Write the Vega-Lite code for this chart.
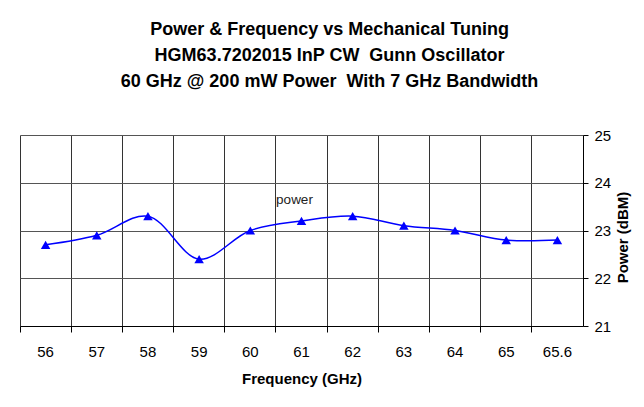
{
  "$schema": "https://vega.github.io/schema/vega-lite/v6.json",
  "width": 563,
  "height": 191,
  "autosize": "none",
  "padding": {"left": 20, "top": 135, "right": 61, "bottom": 81},
  "background": "white",
  "title": {
    "text": ["Power & Frequency vs Mechanical Tuning", "HGM63.7202015 InP CW\u00a0 Gunn Oscillator", "60 GHz @ 200 mW Power\u00a0 With 7 GHz Bandwidth"],
    "font": "Liberation Sans",
    "fontSize": 18,
    "fontWeight": "bold",
    "lineHeight": 26,
    "anchor": "middle",
    "dx": 28,
    "offset": 37,
    "color": "#000"
  },
  "data": {
    "values": [
      {"freq": "56", "power": 22.7},
      {"freq": "57", "power": 22.9},
      {"freq": "58", "power": 23.3},
      {"freq": "59", "power": 22.4},
      {"freq": "60", "power": 23.0},
      {"freq": "61", "power": 23.2},
      {"freq": "62", "power": 23.3},
      {"freq": "63", "power": 23.1},
      {"freq": "64", "power": 23.0},
      {"freq": "65", "power": 22.8},
      {"freq": "65.6", "power": 22.8}
    ]
  },
  "encoding": {
    "x": {
      "field": "freq",
      "type": "ordinal",
      "sort": null,
      "scale": {"type": "band", "paddingInner": 0, "paddingOuter": 0},
      "axis": {
        "title": "Frequency (GHz)",
        "orient": "bottom",
        "bandPosition": 0,
        "labelAngle": 0,
        "labelOverlap": false,
        "grid": true,
        "gridColor": "#333",
        "gridWidth": 1,
        "gridOpacity": 1,
        "domainColor": "#000",
        "tickColor": "#000",
        "tickSize": 6,
        "labelPadding": 12,
        "labelFont": "Liberation Sans",
        "labelFontSize": 15,
        "labelColor": "#000",
        "titleFont": "Liberation Sans",
        "titleFontSize": 15,
        "titleFontWeight": "bold",
        "titleColor": "#000",
        "titlePadding": 12
      }
    },
    "y": {
      "field": "power",
      "type": "quantitative",
      "scale": {"domain": [21, 25], "nice": false, "zero": false},
      "axis": {
        "orient": "right",
        "title": "Power (dBM)",
        "values": [21, 21.5, 22, 22.5, 23, 23.5, 24, 24.5, 25],
        "format": "d",
        "labelExpr": "datum.value % 1 == 0 ? datum.label : ''",
        "tickOpacity": {"condition": {"test": "datum.value % 1 == 0", "value": 1}, "value": 0},
        "grid": true,
        "gridColor": "#555",
        "gridWidth": 1,
        "gridOpacity": 1,
        "domainColor": "#000",
        "tickColor": "#000",
        "tickSize": 5,
        "labelPadding": 6,
        "labelFlush": false,
        "labelOverlap": false,
        "labelFont": "Liberation Sans",
        "labelFontSize": 15,
        "labelColor": "#000",
        "titleFont": "Liberation Sans",
        "titleFontSize": 15,
        "titleFontWeight": "bold",
        "titleColor": "#000",
        "titleAngle": 270,
        "titleY": 102,
        "titlePadding": 20
      }
    }
  },
  "layer": [
    {"mark": {"type": "line", "interpolate": "catmull-rom", "color": "#0000FF", "strokeWidth": 1.5}},
    {"mark": {"type": "point", "shape": "triangle-up", "filled": true, "color": "#0000FF", "size": 90, "opacity": 1}},
    {
      "transform": [{"filter": "datum.freq == '61'"}],
      "mark": {"type": "text", "text": "power", "dx": -7, "dy": -21, "font": "Liberation Sans", "fontSize": 13.5, "color": "#222"}
    }
  ],
  "config": {"view": {"stroke": null}}
}
